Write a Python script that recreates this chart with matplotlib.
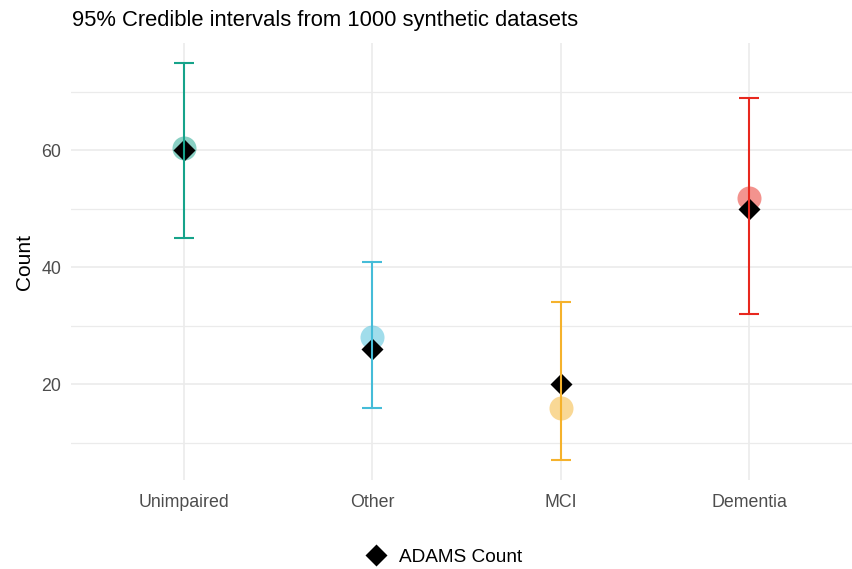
import matplotlib
matplotlib.use("Agg")
import matplotlib.pyplot as plt
from matplotlib.lines import Line2D
from matplotlib.ticker import MultipleLocator

categories = ["Unimpaired", "Other", "MCI", "Dementia"]
lower = [45, 16, 7, 32]
upper = [75, 41, 34, 69]
synthetic_mean = [60.5, 28.0, 16.0, 51.8]
adams_count = [60, 26, 20, 50]
colors = ["#16a38a", "#45bcd8", "#f5b22c", "#e8281e"]

plt.rcParams['font.family'] = ['Liberation Sans', 'DejaVu Sans']

W, H = 852, 569
fig = plt.figure(figsize=(W / 100, H / 100), dpi=100)
left_px, right_px, top_px, bot_px = 71, 852, 43, 480
ax = fig.add_axes([left_px / W, 1 - bot_px / H, (right_px - left_px) / W, (bot_px - top_px) / H])

x = list(range(len(categories)))
for i in x:
    ax.plot(i, synthetic_mean[i], 'o', ms=17.3, color=colors[i], alpha=0.5, mec='none', zorder=3)
    ax.plot(i, adams_count[i], 'D', ms=10.8, color='black', mec='none', zorder=4)
    ax.errorbar(i, (lower[i] + upper[i]) / 2, yerr=[[(upper[i] - lower[i]) / 2]],
                fmt='none', ecolor=colors[i], elinewidth=1.5, capsize=7, capthick=1.5, zorder=5)

ax.set_xlim(-0.6, 3.547)
ax.set_ylim(3.6, 78.4)
ax.set_xticks(x)
ax.set_xticklabels(categories)
ax.yaxis.set_major_locator(MultipleLocator(20))
ax.yaxis.set_minor_locator(MultipleLocator(10))
ax.set_yticks([20, 40, 60])
ax.grid(True, which='major', color='#ebebeb', lw=1.2)
ax.grid(True, which='minor', axis='y', color='#ebebeb', lw=0.9)
ax.set_axisbelow(True)
for s in ax.spines.values():
    s.set_visible(False)
ax.tick_params(which='both', length=0, labelsize=12.8, labelcolor='#4d4d4d')
ax.tick_params(axis='y', pad=7)
ax.tick_params(axis='x', pad=10)
ax.set_ylabel("Count", fontsize=15, color='black', labelpad=5)

fig.text(72 / W, 1 - 20.5 / H, "95% Credible intervals from 1000 synthetic datasets",
         fontsize=15.8, ha='left', va='center')

handle = Line2D([], [], marker='D', ls='none', color='black', ms=10.8, mec='none')
fig.legend([handle], ["ADAMS Count"], loc='center', bbox_to_anchor=(442 / W, 1 - 557 / H),
           frameon=False, fontsize=13.7, handletextpad=0.5, handlelength=1.4, borderaxespad=0)

fig.savefig("out.png", dpi=100)
